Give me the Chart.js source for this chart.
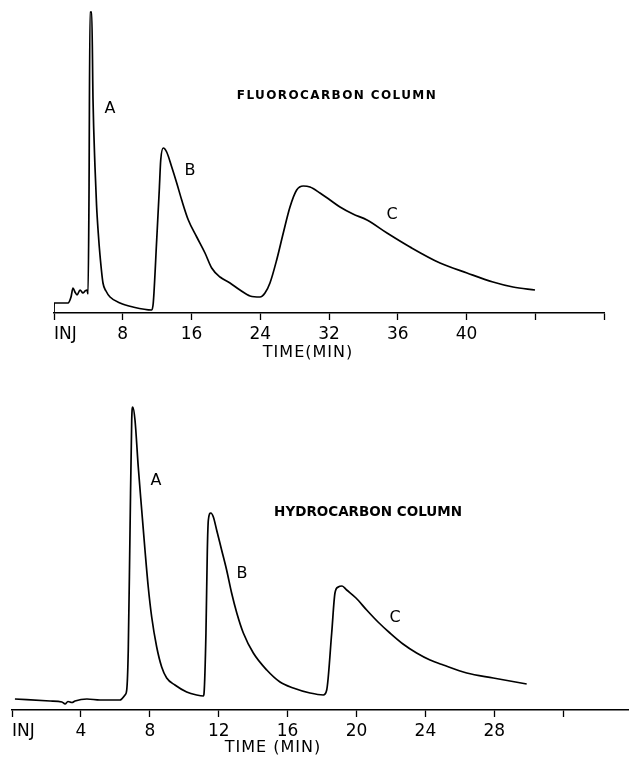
<!DOCTYPE html>
<html>
<head>
<meta charset="utf-8">
<script src="https://cdn.jsdelivr.net/npm/chart.js@4.4.1/dist/chart.umd.min.js"></script>
<style>
  html, body { margin: 0; padding: 0; background: #fff; }
  #wrap { position: relative; width: 629px; height: 757px; overflow: hidden; }
  canvas { position: absolute; left: 0; }
</style>
</head>
<body>
<div id="wrap">
  <canvas id="top" width="629" height="370" style="top:0"></canvas>
  <canvas id="bot" width="629" height="387" style="top:370px"></canvas>
</div>
<script>
// ---------- Fluorocarbon column (top) ----------
const fluoroTime = [0, 0.02, 1.63, 1.98, 2.21, 2.44, 2.68, 3.03, 3.37, 3.61, 3.84, 3.96, 4.07, 4.19, 4.39, 4.54, 4.77, 4.95, 5.15, 5.35, 5.70, 6.05, 6.52, 7.68, 9.19, 11.37, 11.55, 11.95, 12.25, 12.42, 12.72, 13.11, 13.70, 14.28, 14.86, 15.63, 16.61, 17.57, 18.35, 19.32, 20.48, 21.64, 22.81, 23.97, 24.55, 25.13, 25.91, 26.68, 27.46, 28.24, 29.01, 29.79, 30.95, 32.12, 33.28, 34.79, 36.42, 38.75, 41.43, 44.92, 48.06, 51.08, 53.41, 55.97];
const fluoroSignal = [0, 10, 10, 16, 25, 21, 18, 23, 20, 22, 23, 19, 113, 301, 301, 213, 146, 108, 80, 58, 30, 22, 16, 10, 6, 3, 10, 73, 123, 153, 165, 161, 146, 130, 113, 93, 76, 60, 45, 36, 30, 23, 17, 16, 20, 30, 53, 80, 106, 123, 127, 126, 120, 113, 106, 99, 93, 80, 66, 50, 40, 31, 26, 23];
const fluoroTicks = [0, 8, 16, 24, 32, 40, 48, 56, 64];
const fluoroTickLabels = ['INJ', '8', '16', '24', '32', '36', '40', '', ''];

// ---------- Hydrocarbon column (bottom) ----------
const hydroTime = [0.17, 2.21, 2.90, 3.08, 3.25, 3.48, 3.66, 4.35, 5.11, 6.27, 6.56, 6.66, 6.75, 6.85, 6.95, 7.01, 7.14, 7.33, 7.53, 7.72, 7.91, 8.11, 8.40, 8.69, 8.98, 9.46, 10.14, 10.72, 11.11, 11.15, 11.26, 11.34, 11.40, 11.54, 11.69, 11.88, 12.17, 12.46, 12.75, 13.05, 13.43, 14.01, 14.79, 15.56, 16.33, 17.30, 18.07, 18.27, 18.56, 18.75, 18.94, 19.16, 19.43, 19.97, 20.59, 21.25, 21.94, 22.70, 23.49, 24.27, 25.04, 26.40, 27.94, 29.88];
const hydroSignal = [11, 9, 8, 6, 8.5, 7.5, 9, 11, 10, 10, 15, 20, 60, 177, 290, 303, 290, 243, 200, 160, 123, 93, 63, 43, 32, 25, 18, 15, 14, 17, 77, 160, 190, 197, 193, 180, 160, 140, 117, 97, 77, 57, 40, 28, 22, 17, 15, 20, 77, 117, 123, 124, 120, 112, 100, 88, 77, 66, 57, 50, 45, 37, 32, 26];
const hydroTicks = [0, 4, 8, 12, 16, 20, 24, 28, 32];
const hydroTickLabels = ['INJ', '4', '8', '12', '16', '20', '24', '28', ''];

// ---------- text labels ----------
const fluoroTitle = 'FLUOROCARBON COLUMN';
const hydroTitle = 'HYDROCARBON COLUMN';
const fluoroAxisTitle = 'TIME(MIN)';
const hydroAxisTitle = 'TIME (MIN)';
const peakNames = ['A', 'B', 'C'];

const textPlugin = {
  id: 'texts',
  afterDraw(chart, args, opts) {
    const ctx = chart.ctx;
    const xs = chart.scales.x, ys = chart.scales.y;
    ctx.save();
    ctx.fillStyle = '#000';
    ctx.textAlign = 'center';
    ctx.textBaseline = 'middle';
    (opts.items || []).forEach(it => {
      ctx.font = it.font;
      ctx.letterSpacing = (it.ls || 0) + 'px';
      ctx.fillText(it.text, xs.getPixelForValue(it.x), ys.getPixelForValue(it.y));
    });
    ctx.restore();
  }
};

function makeChart(id, times, signal, ticks, tickLabels, xMax, yMax, axisH, padLeft, padRight, items) {
  const pts = times.map((t, i) => ({ x: t, y: signal[i] }));
  return new Chart(document.getElementById(id), {
    type: 'line',
    data: { datasets: [{ data: pts, borderColor: '#000', borderWidth: 1.7, pointRadius: 0, cubicInterpolationMode: 'monotone', fill: false }] },
    options: {
      responsive: false, animation: false, devicePixelRatio: 1,
      layout: { padding: { left: padLeft, right: padRight, top: 0, bottom: 0 } },
      plugins: { legend: { display: false }, tooltip: { enabled: false }, texts: { items } },
      scales: {
        x: {
          type: 'linear', min: 0, max: xMax,
          afterBuildTicks: s => { s.ticks = ticks.map(v => ({ value: v })); },
          afterFit: s => { s.height = axisH; },
          border: { display: true, color: '#000', width: 1.5 },
          grid: { drawOnChartArea: false, drawTicks: true, tickLength: 7, tickWidth: 1.3, tickColor: '#000' },
          ticks: {
            autoSkip: false, maxRotation: 0, align: 'inner', padding: 4, color: '#000',
            font: { family: 'DejaVu Sans', size: 17 },
            callback: (v, i) => tickLabels[i]
          }
        },
        y: { display: false, min: 0, max: yMax }
      }
    },
    plugins: [textPlugin]
  });
}

const letterFont = '16px "DejaVu Sans"';
const axisFont = '16px "DejaVu Sans"';

makeChart('top', fluoroTime, fluoroSignal, fluoroTicks, fluoroTickLabels, 64, 313, 57, 54, 25, [
  { text: fluoroTitle, x: 32.93, y: 217, font: 'bold 12px "DejaVu Sans"', ls: 1.4 },
  { text: peakNames[0], x: 6.52, y: 204, font: letterFont },
  { text: peakNames[1], x: 15.83, y: 142, font: letterFont },
  { text: peakNames[2], x: 39.33, y: 98, font: letterFont },
  { text: fluoroAxisTitle, x: 29.56, y: -40, font: axisFont, ls: 1 }
]);

makeChart('bot', hydroTime, hydroSignal, hydroTicks, hydroTickLabels, 35.82, 340, 47, 12, 0, [
  { text: hydroTitle, x: 20.67, y: 198, font: 'bold 13.5px "DejaVu Sans"', ls: 0 },
  { text: peakNames[0], x: 8.36, y: 229, font: letterFont },
  { text: peakNames[1], x: 13.35, y: 136, font: letterFont },
  { text: peakNames[2], x: 22.24, y: 92, font: letterFont },
  { text: hydroAxisTitle, x: 15.15, y: -38, font: axisFont, ls: 1 }
]);
</script>
</body>
</html>
